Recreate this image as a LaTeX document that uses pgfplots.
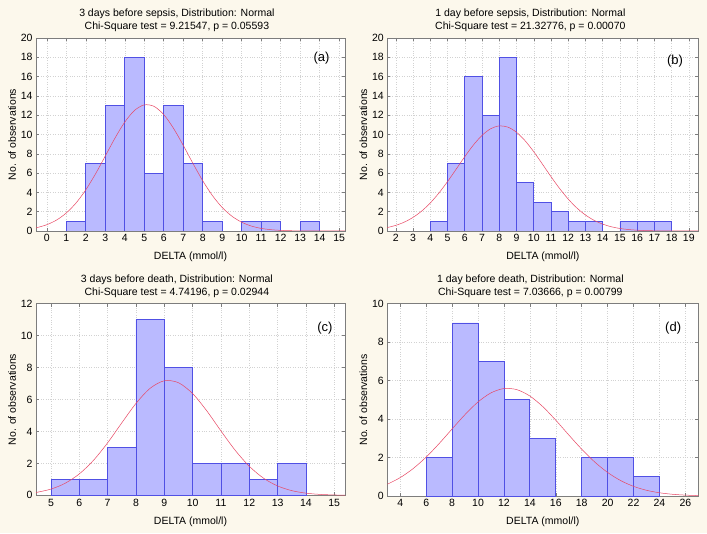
\documentclass[border=0pt]{standalone}
\usepackage{fontspec}
\setmainfont{Liberation Sans}
\usepackage{pgfplots}
\pgfplotsset{compat=1.18}
\definecolor{bg}{RGB}{252,248,236}
\definecolor{barfill}{RGB}{186,186,255}
\definecolor{baredge}{RGB}{80,80,228}
\definecolor{curve}{RGB}{232,72,100}
\definecolor{axgray}{RGB}{125,125,125}
\tikzset{tag/.style={font=\fontsize{13}{15}\selectfont}}
\pgfplotsset{
  hist/.style={
    scale only axis, anchor=south west,
    axis background/.style={fill=white},
    axis line style={axgray, line width=0.5pt},
    grid=major, grid style={dotted, gray!35, line width=0.4pt},
    tick style={axgray, line width=0.4pt}, major tick length=3pt,
    tick align=inside,
    ymin=0,
    ticklabel style={font=\fontsize{10.5}{12}\selectfont},
    /pgf/number format/assume math mode=true,
    xlabel={DELTA (mmol/l)}, ylabel={No. of observations},
    label style={font=\fontsize{10.5}{12}\selectfont},
    title style={font=\fontsize{10.5}{13.4}\selectfont, align=center, anchor=south, yshift=-3.5pt},
    xlabel style={yshift=-3.5pt},
    ylabel style={yshift=-2pt},
  },
  bars/.style={ybar interval, fill=barfill, draw=baredge, line width=0.7pt},
  fit/.style={smooth, color=curve, line width=0.5pt, no markers},
}
\begin{document}
\begin{tikzpicture}
\path[fill=bg] (0,0) rectangle (707pt,533pt);

% (a)
\begin{axis}[hist, at={(36pt,302pt)}, width=309pt, height=193pt,
  xmin=-0.55, xmax=15.3, ymax=20, xtick={0,1,...,15}, ytick={0,2,...,20},
  title={3 days before sepsis, Distribution: Normal\\Chi-Square test = 9.21547, p = 0.05593},
  title style={at={(0.456,1)}}]
\addplot[bars] coordinates {(1,1) (2,7) (3,13) (4,18) (5,6) (6,13) (7,7) (8,1) (9,0)};
\addplot[bars] coordinates {(10,1) (11,1) (12,0)};
\addplot[bars] coordinates {(13,1) (14,0)};
\addplot[fit] coordinates {(-0.55,0.33) (-0.5,0.351) (0,0.648) (0.5,1.129) (1,1.859) (1.5,2.894) (2,4.254) (2.5,5.909) (3,7.757) (3.5,9.621) (4,11.277) (4.5,12.487) (5,13.067) (5.5,12.919) (6,12.069) (6.5,10.654) (7,8.887) (7.5,7.005) (8,5.216) (8.5,3.671) (9,2.440) (9.5,1.533) (10,0.910) (10.5,0.510) (11,0.271) (11.5,0.135) (12,0.064) (12.5,0.029) (13,0.012) (14,0.002) (15.3,0)};
\node[tag] at (axis cs:14.1,17.9) {(a)};
\end{axis}

% (b)
\begin{axis}[hist, at={(387.3pt,302pt)}, width=311pt, height=193pt,
  xmin=1.5, xmax=19.55, ymax=20, xtick={2,3,...,19}, ytick={0,2,...,20},
  title={1 day before sepsis, Distribution: Normal\\Chi-Square test = 21.32776, p = 0.00070},
  title style={at={(0.46,1)}}]
\addplot[bars] coordinates {(4,1) (5,7) (6,16) (7,12) (8,18) (9,5) (10,3) (11,2) (12,1) (13,1) (14,0)};
\addplot[bars] coordinates {(15,1) (16,1) (17,1) (18,0)};
\addplot[fit] coordinates {(1.5,0.358) (2,0.589) (2.5,0.932) (3,1.417) (3.5,2.073) (4,2.917) (4.5,3.944) (5,5.130) (5.5,6.415) (6,7.713) (6.5,8.917) (7,9.913) (7.5,10.597) (8,10.891) (8.5,10.764) (9,10.229) (9.5,9.347) (10,8.212) (10.5,6.938) (11,5.636) (11.5,4.403) (12,3.306) (12.5,2.388) (13,1.658) (13.5,1.107) (14,0.711) (14.5,0.439) (15,0.261) (15.5,0.149) (16,0.082) (16.5,0.043) (17,0.022) (18,0.005) (19.55,0)};
\node[tag] at (axis cs:18.2,17.6) {(b)};
\end{axis}

% (c)
\begin{axis}[hist, at={(36pt,37.7pt)}, width=309pt, height=191.6pt,
  xmin=4.47, xmax=15.38, ymax=12, xtick={5,6,...,15}, ytick={0,2,...,12},
  title={3 days before death, Distribution: Normal\\Chi-Square test = 4.74196, p = 0.02944},
  title style={at={(0.456,1)}}]
\addplot[bars] coordinates {(5,1) (6,1) (7,3) (8,11) (9,8) (10,2) (11,2) (12,1) (13,2) (14,0)};
\addplot[fit] coordinates {(4.47,0.175) (4.5,0.185) (5,0.390) (5.5,0.754) (6,1.341) (6.5,2.191) (7,3.290) (7.5,4.540) (8,5.755) (8.5,6.703) (9,7.173) (9.5,7.052) (10,6.371) (10.5,5.288) (11,4.032) (11.5,2.825) (12,1.819) (12.5,1.076) (13,0.585) (13.5,0.292) (14,0.134) (14.5,0.056) (15,0.022) (15.38,0.01)};
\node[tag] at (axis cs:14.67,10.5) {(c)};
\end{axis}

% (d)
\begin{axis}[hist, at={(387.3pt,37pt)}, width=311pt, height=192.3pt,
  xmin=3, xmax=27, ymax=10, xtick={4,6,...,26}, ytick={0,2,...,10},
  title={1 day before death, Distribution: Normal\\Chi-Square test = 7.03666, p = 0.00799},
  title style={at={(0.46,1)}}]
\addplot[bars] coordinates {(6,2) (8,9) (10,7) (12,5) (14,3) (16,0)};
\addplot[bars] coordinates {(18,2) (20,2) (22,1) (24,0)};
\addplot[fit] coordinates {(3,0.610) (4,0.958) (5,1.429) (6,2.025) (7,2.726) (8,3.487) (9,4.236) (10,4.890) (11,5.363) (12,5.587) (13,5.530) (14,5.200) (15,4.646) (16,3.943) (17,3.179) (18,2.435) (19,1.772) (20,1.225) (21,0.805) (22,0.502) (23,0.298) (24,0.168) (25,0.090) (26,0.046) (27,0.022)};
\node[tag] at (axis cs:25.06,8.75) {(d)};
\end{axis}
\end{tikzpicture}
\end{document}
